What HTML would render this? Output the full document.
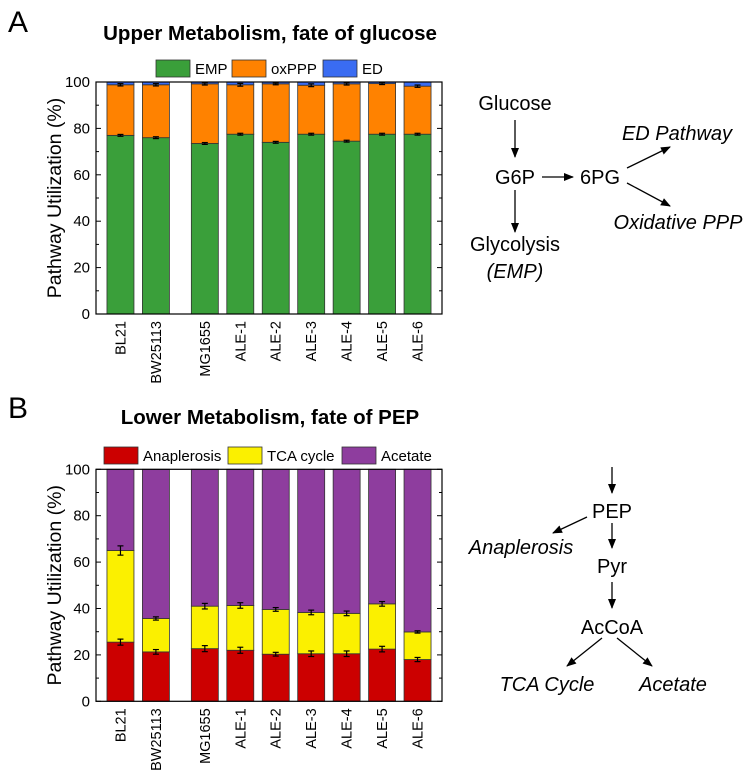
<!DOCTYPE html>
<html><head><meta charset="utf-8"><style>
body{margin:0;background:#fff;}
svg{display:block;font-family:"Liberation Sans",Arial,sans-serif;}
</style></head><body>
<svg id="fig" width="754" height="781" viewBox="0 0 754 781" xmlns="http://www.w3.org/2000/svg">
<defs><marker id="ah" markerWidth="10" markerHeight="8" refX="9" refY="4" orient="auto" markerUnits="userSpaceOnUse"><path d="M0,0 L10,4 L0,8 Z" fill="#000"/></marker></defs>
<text x="8" y="32" font-size="30">A</text>
<text x="270" y="40" font-size="20.5" font-weight="bold" text-anchor="middle">Upper Metabolism, fate of glucose</text>
<text x="8" y="418" font-size="30">B</text>
<text x="270" y="424" font-size="20.5" font-weight="bold" text-anchor="middle">Lower Metabolism, fate of PEP</text>
<g id="chartA"></g>
<g id="chartB"></g>
<g font-size="20" text-anchor="middle">
<text x="515" y="110">Glucose</text>
<line x1="515" y1="120" x2="515" y2="157" stroke="#000" stroke-width="1.3" marker-end="url(#ah)"/>
<text x="515" y="184">G6P</text>
<line x1="542" y1="177" x2="573" y2="177" stroke="#000" stroke-width="1.3" marker-end="url(#ah)"/>
<text x="600" y="184">6PG</text>
<line x1="627" y1="168" x2="670" y2="147" stroke="#000" stroke-width="1.3" marker-end="url(#ah)"/>
<text x="677" y="140" font-style="italic">ED Pathway</text>
<line x1="627" y1="183" x2="670" y2="206" stroke="#000" stroke-width="1.3" marker-end="url(#ah)"/>
<text x="678" y="229" font-style="italic">Oxidative PPP</text>
<line x1="515" y1="190" x2="515" y2="232" stroke="#000" stroke-width="1.3" marker-end="url(#ah)"/>
<text x="515" y="251">Glycolysis</text>
<text x="515" y="278" font-style="italic">(EMP)</text>
</g>
<g font-size="20" text-anchor="middle">
<line x1="612" y1="467" x2="612" y2="493" stroke="#000" stroke-width="1.3" marker-end="url(#ah)"/>
<text x="612" y="518">PEP</text>
<line x1="587" y1="517" x2="553" y2="533" stroke="#000" stroke-width="1.3" marker-end="url(#ah)"/>
<text x="521" y="554" font-style="italic">Anaplerosis</text>
<line x1="612" y1="523" x2="612" y2="548" stroke="#000" stroke-width="1.3" marker-end="url(#ah)"/>
<text x="612" y="573">Pyr</text>
<line x1="612" y1="582" x2="612" y2="608" stroke="#000" stroke-width="1.3" marker-end="url(#ah)"/>
<text x="612" y="634">AcCoA</text>
<line x1="602" y1="638" x2="567" y2="666" stroke="#000" stroke-width="1.3" marker-end="url(#ah)"/>
<line x1="617" y1="638" x2="652" y2="666" stroke="#000" stroke-width="1.3" marker-end="url(#ah)"/>
<text x="547" y="691" font-style="italic">TCA Cycle</text>
<text x="673" y="691" font-style="italic">Acetate</text>
</g>
</svg>
<script>
const categories = ["BL21","BW25113","MG1655","ALE-1","ALE-2","ALE-3","ALE-4","ALE-5","ALE-6"];
const slots = [0,1,2.38,3.38,4.38,5.38,6.38,7.38,8.38];
const empValues = [77,76,73.5,77.5,74,77.5,74.5,77.5,77.5];
const oxpppValues = [21.8,22.8,25.7,21.3,25.2,21.1,24.7,21.8,20.7];
const edValues = [1.2,1.2,0.8,1.2,0.8,1.4,0.8,0.7,1.8];
const empErr = [0.4,0.4,0.4,0.4,0.4,0.4,0.4,0.4,0.4];
const oxpppErr = [0.5,0.5,0.5,0.6,0.4,0.6,0.5,0.4,0.5];
const anaValues = [25.5,21.3,22.7,22,20.3,20.5,20.5,22.5,18];
const tcaValues = [39.5,14.4,18.3,19.3,19.3,17.8,17.4,19.5,11.9];
const acetValues = [35,64.3,59,58.7,60.4,61.7,62.1,58,70.1];
const anaErr = [1.3,1,1.3,1.3,0.8,1.2,1.2,1.2,0.9];
const tcaErr = [2,0.7,1.2,1.2,0.8,1,1,1,0.5];
const yTicks = [0,20,40,60,80,100];
const NS="http://www.w3.org/2000/svg";
function mk(parent,tag,attrs){const e=document.createElementNS(NS,tag);for(const k in attrs)e.setAttribute(k,attrs[k]);parent.appendChild(e);return e;}
function drawChart(gid,yTop,series,colors,names,errs,legend){
  const g=document.getElementById(gid);
  const x0=96,x1=442,y0=yTop+232;
  const xs=v=>x0+(v+0.69)*(x1-x0)/9.76;
  const ys=v=>y0-v*232/100;
  const bw=27;
  categories.forEach((c,i)=>{
    let cum=0;const tops=[];
    series.forEach((s,k)=>{
      const r=mk(g,'rect',{x:xs(slots[i])-bw/2,y:ys(cum+s[i]),width:bw,height:ys(cum)-ys(cum+s[i]),fill:colors[k],stroke:'#333','stroke-width':0.8});
      
      
      cum+=s[i];tops.push(cum);
    });
    errs.forEach((e,k)=>{
      const cx=xs(slots[i]),t=tops[k];
      const eg=mk(g,'g',{stroke:'#000','stroke-width':1.2});
      
      
      mk(eg,'line',{x1:cx,x2:cx,y1:ys(t-e[i]),y2:ys(t+e[i])});
      mk(eg,'line',{x1:cx-3,x2:cx+3,y1:ys(t-e[i]),y2:ys(t-e[i])});
      mk(eg,'line',{x1:cx-3,x2:cx+3,y1:ys(t+e[i]),y2:ys(t+e[i])});
    });
    const lt=mk(g,'text',{transform:`translate(${xs(slots[i])+5},${y0+7}) rotate(-90)`,'text-anchor':'end','font-size':14.5});
    lt.textContent=c;
    
    
  });
  const fr=mk(g,'rect',{x:x0,y:yTop,width:x1-x0,height:232,fill:'none',stroke:'#000','stroke-width':1.2});
  
  
  for(let v=0;v<=100;v+=10){
    const L=v%20===0?5:3;
    mk(g,'line',{x1:x0,x2:x0+L,y1:ys(v),y2:ys(v),stroke:'#000','stroke-width':1});
    mk(g,'line',{x1:x1,x2:x1-L,y1:ys(v),y2:ys(v),stroke:'#000','stroke-width':1});
  }
  yTicks.forEach(v=>{
    const t=mk(g,'text',{x:x0-6,y:ys(v)+5,'text-anchor':'end','font-size':15});
    t.textContent=v;
    
    
  });
  const yl=mk(g,'text',{transform:`translate(61,${yTop+116}) rotate(-90)`,'text-anchor':'middle','font-size':19.5});
  yl.textContent='Pathway Utilization (%)';
  
  
  legend.forEach((L,k)=>{
    const r=mk(g,'rect',{x:L[0],y:L[1],width:34,height:17,fill:colors[k],stroke:'#333','stroke-width':0.8});
    
    
    const t=mk(g,'text',{x:L[0]+39,y:L[1]+14,'font-size':15});
    t.textContent=L[2];
    
    
  });
}
drawChart('chartA',82,[empValues,oxpppValues,edValues],['#3a9f3a','#ff8200','#3a6cf2'],['emp','oxppp','ed'],[empErr,oxpppErr],[[156,60,'EMP'],[232,60,'oxPPP'],[323,60,'ED']]);
drawChart('chartB',469.3,[anaValues,tcaValues,acetValues],['#cc0000','#fbf000','#8e3d9e'],['anaplerosis','tca','acetate'],[anaErr,tcaErr],[[104,447,'Anaplerosis'],[228,447,'TCA cycle'],[342,447,'Acetate']]);
</script>
</body></html>
